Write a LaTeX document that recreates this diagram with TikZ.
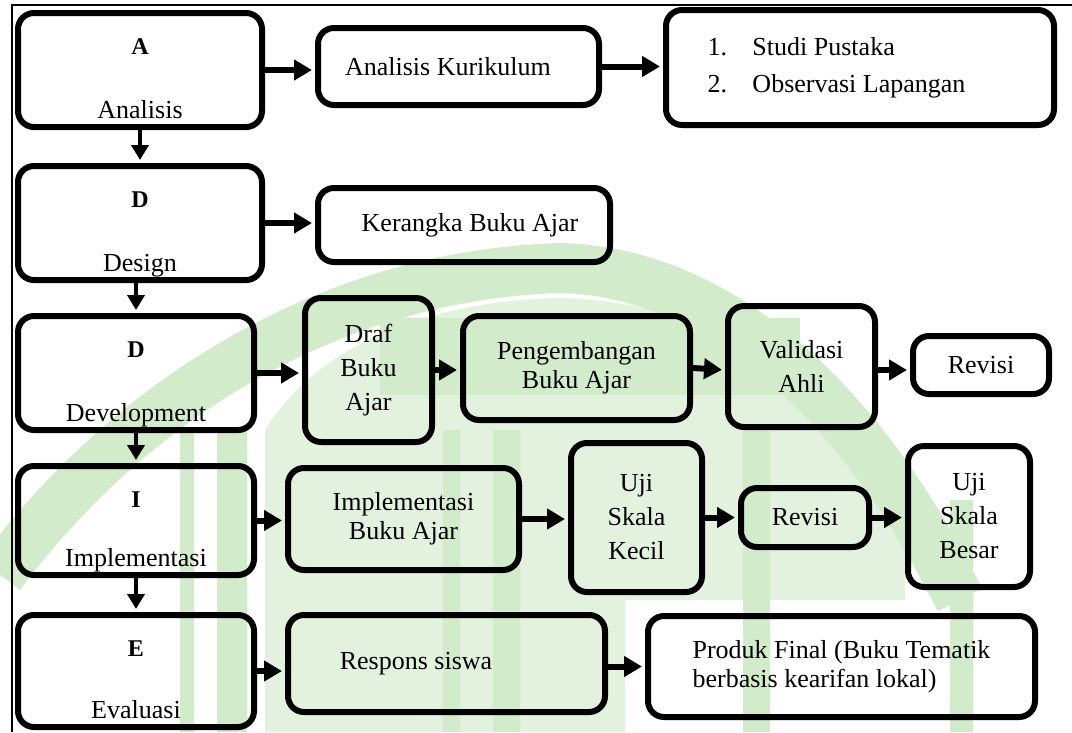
\documentclass[tikz,border=0pt]{standalone}
\usepackage{fontspec}
\setmainfont{Liberation Serif}
\usetikzlibrary{arrows.meta,positioning,calc}
\definecolor{WmGreen}{HTML}{D2EBCB}
\definecolor{WmPale}{HTML}{E2F2DE}

\begin{document}
\begin{tikzpicture}[x=1pt,y=-1pt, every node/.style={font=\fontsize{26}{29}\selectfont},
 box/.style={draw,line width=6pt,rounded corners=16pt,align=center,inner sep=0pt},
 tall/.style={box,font=\fontsize{26}{34}\selectfont},
 phase/.style={box,minimum width=236pt,minimum height=112pt},
 letter/.style={font=\fontsize{24}{26}\selectfont\bfseries},
 word/.style={anchor=base},
 arr/.style={-{Triangle[length=18pt,width=20pt]},line width=6pt,shorten >=3pt},
 down/.style={-{Triangle[length=15pt,width=17pt]},line width=4pt,shorten >=3pt},
 wm/.style={WmGreen,line width=50pt}]
\useasboundingbox (0,0) rectangle (1072,732);
% watermark
\fill[WmPale] (265,732) -- (265,430) .. controls (320,340) and (440,300) .. (560,298)
 .. controls (700,300) and (840,380) .. (905,480) -- (905,600) -- (625,600) -- (625,732) -- cycle;
\draw[wm] (0,575) .. controls (130,400) and (330,275) .. (560,268) .. controls (720,272) and (860,400) .. (960,600);
\fill[WmGreen] (380,318) rectangle (800,395);
\fill[WmGreen] (180,430) rectangle (194,732) (217,430) rectangle (247,732)
 (443,430) rectangle (460,732) (493,430) rectangle (520,732)
 (743,430) rectangle (770,732) (950,500) rectangle (973,732);
% frame
\draw[line width=2pt] (12,732) -- (12,5) -- (1072,5);

% A
\node[phase,minimum width=244pt,minimum height=114pt] (ana) at (140,70) {};
\node[letter] (anaL) at ([yshift=-37pt]ana.north) {A};
\node[word] (anaW) at ([yshift=12pt]ana.south) {Analisis};
\node[box,minimum width=281pt,minimum height=77pt] (akur) at (458.5,66.5) {Analisis Kurikulum\hspace*{21pt}};
\node[box,minimum width=388pt,minimum height=115pt,align=left] (stud) at (860,67.5)
 {\makebox[45pt][l]{1.}Studi Pustaka\\[8pt]\makebox[45pt][l]{2.}Observasi Lapangan\hspace*{47pt}};

% D design
\node[phase,minimum width=244pt,minimum height=114pt] (des) at (140,223) {};
\node[letter] (desL) at ([yshift=-37pt]des.north) {D};
\node[word] (desW) at ([yshift=12pt]des.south) {Design};
\node[box,minimum width=292pt,minimum height=74pt] (ker) at (464,225) {\hspace*{12pt}Kerangka Buku Ajar};

% D development
\node[phase,minimum height=114pt] (dev) at (136,373) {};
\node[letter] (devL) at ([yshift=-37pt]dev.north) {D};
\node[word] (devW) at ([yshift=12pt]dev.south) {Development};
\node[tall,minimum width=127pt,minimum height=144pt] (draf) at (368.5,370) {Draf\\Buku\\Ajar};
\node[box,minimum width=227pt,minimum height=104pt] (peng) at (576.5,368) {Pengembangan\\Buku Ajar};
\node[tall,minimum width=147pt,minimum height=121pt] (val) at (801.5,366.5) {Validasi\\Ahli};
\node[box,minimum width=136pt,minimum height=58pt] (revA) at (981,365) {Revisi};

% I
\node[phase,minimum height=109pt] (imp) at (136,520.5) {};
\node[letter] (impL) at ([yshift=-37pt]imp.north) {I};
\node[word] (impW) at ([yshift=12pt]imp.south) {Implementasi};
\node[box,minimum width=231pt,minimum height=102pt] (ibuk) at (403.5,519) {Implementasi\\Buku Ajar};
\node[tall,minimum width=131pt,minimum height=149pt] (ujiK) at (636.5,517.5) {Uji\\Skala\\Kecil};
\node[box,minimum width=128pt,minimum height=59pt] (revB) at (805,517.5) {Revisi};
\node[tall,minimum width=122pt,minimum height=141pt] (ujiB) at (969,516.5) {Uji\\Skala\\Besar};

% E
\node[phase,minimum height=112pt] (eva) at (136,671) {};
\node[letter] (evaL) at ([yshift=-37pt]eva.north) {E};
\node[word] (evaW) at ([yshift=12pt]eva.south) {Evaluasi};
\node[box,minimum width=317pt,minimum height=97pt] (resp) at (446.5,663.5) {Respons siswa\hspace*{61pt}};
\node[box,minimum width=387pt,minimum height=101pt,align=left] (prod) at (841.5,666.5)
 {Produk Final (Buku Tematik\\berbasis kearifan lokal)};

% connectors
\draw[arr] (ana.east) -- (akur.west |- ana.east);
\draw[arr] (akur.east) -- (stud.west |- akur.east);
\draw[arr] (des.east) -- (ker.west |- des.east);
\draw[arr] (dev.east) -- (draf.west |- dev.east);
\draw[arr] (draf.east) -- (peng.west |- draf.east);
\draw[arr] (peng.east) -- (val.west |- draf.east);
\draw[arr] (val.east |- draf.east) -- (revA.west |- draf.east);
\draw[arr] (imp.east) -- (ibuk.west |- imp.east);
\draw[arr] (ibuk.east) -- (ujiK.west |- ibuk.east);
\draw[arr] (ujiK.east |- revB) -- (revB.west);
\draw[arr] (revB.east) -- (ujiB.west |- revB.east);
\draw[arr] (eva.east) -- (resp.west |- eva.east);
\draw[arr] (resp.east |- prod.west) -- (prod.west);
\draw[down] (ana.south) -- (des.north);
\draw[down] (des.south -| dev.north) -- (dev.north);
\draw[down] (dev.south) -- (imp.north);
\draw[down] (imp.south) -- (eva.north);
\end{tikzpicture}
\end{document}
